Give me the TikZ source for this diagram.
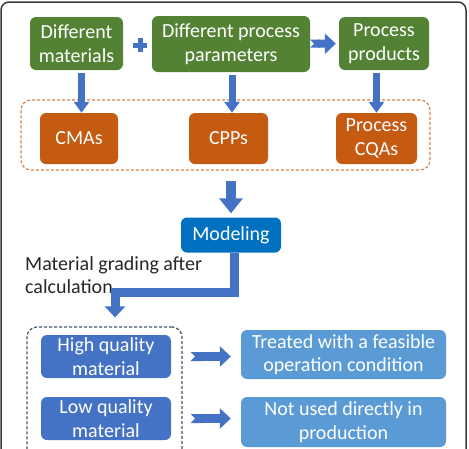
\documentclass[tikz,border=0pt]{standalone}
\usepackage{fontspec}
\setmainfont{Carlito}
\usetikzlibrary{arrows.meta, positioning}
\definecolor{inputgreen}{RGB}{84,130,53}
\definecolor{attrorange}{RGB}{197,90,17}
\definecolor{modelblue}{RGB}{0,112,192}
\definecolor{gradeblue}{RGB}{68,114,196}
\definecolor{resultblue}{RGB}{91,155,213}
\definecolor{arrowblue}{RGB}{68,114,196}
\definecolor{groupgray}{RGB}{68,84,106}
\definecolor{framegray}{RGB}{60,60,60}

\tikzset{
  box/.style={rounded corners=6pt, inner sep=0pt, align=center, text=white,
    font=\fontsize{20}{23.5}\selectfont},
  greenbox/.style={box, fill=inputgreen},
  orangebox/.style={box, fill=attrorange},
  gradebox/.style={box, fill=gradeblue},
  resultbox/.style={box, fill=resultblue},
  dashgroup/.style={dash pattern=on 3pt off 2pt, line width=1.2pt, rounded corners=10pt, inner sep=0pt},
  flow/.style={draw=arrowblue, line width=7pt, -{Triangle[length=11pt,width=15pt]}},
  bigflow/.style={draw=arrowblue, line width=10pt, -{Triangle[length=15pt,width=23pt]}},
  elbowflow/.style={draw=arrowblue, line width=9pt, line join=miter, -{Triangle[length=11pt,width=20pt]}},
  notchflow/.style={draw=arrowblue, line width=9pt, {Triangle Cap[reversed]}-{Triangle[length=11pt,width=20pt]}},
}

\begin{document}
\begin{tikzpicture}[x=1pt, y=-1pt]
  \useasboundingbox (0,0) rectangle (469,448);

  % Draw the frame
  \draw[framegray, line width=1.5pt, rounded corners=8pt] (1,2) rectangle (466,490);

  % Inputs and outputs
  \node[greenbox, minimum width=93pt, minimum height=53pt] (materials) at (76.5,43.5) {Different\\materials};
  \node[greenbox, minimum width=158pt, minimum height=56pt] (params) at (231,44) {Different process\\parameters};
  \node[greenbox, minimum width=90pt, minimum height=53pt] (products) at (384,43.5) {Process\\products};

  % Plus sign
  \coordinate (plus) at (140,45);
  \draw[arrowblue, line width=5pt] ([xshift=-7pt]plus) -- ([xshift=7pt]plus)
    ([yshift=-7pt]plus) -- ([yshift=7pt]plus);
  \draw[notchflow, line width=8pt, shorten >=3pt] (params) -- (products);

  % Critical attributes
  \node[dashgroup, draw=attrorange!75, minimum width=409pt, minimum height=70pt] (attributes) at (225.5,135) {};
  \node[orangebox, minimum width=78pt, minimum height=51pt] (cma) at (79,138.5) {CMAs};
  \node[orangebox, minimum width=79pt, minimum height=51pt] (cpp) at (228.5,138.5) {CPPs};
  \node[orangebox, minimum width=81pt, minimum height=51pt] (cqa) at (376.5,138.5) {Process\\CQAs};

  \draw[flow, shorten <=3pt] ([xshift=5pt]materials.south) -- ([xshift=5pt]materials.south |- cma.north);
  \draw[flow, shorten <=3pt] ([xshift=1pt]params.south) -- ([xshift=1pt]params.south |- cpp.north);
  \draw[flow, shorten <=3pt] (cqa.north |- products.south) -- (cqa.north);

  % Modeling
  \node[box, fill=modelblue, minimum width=100pt, minimum height=35pt] (model) at (231,235) {Modeling};
  \draw[bigflow, shorten <=10pt, shorten >=4pt] (attributes.south -| model) -- (model.north);

  \node[anchor=north west, align=left, inner sep=0pt, text=black!85,
    font=\fontsize{20}{23.5}\selectfont] (gradelabel) at (25,256) {Material grading after\\calculation};

  % Grading
  \node[dashgroup, draw=groupgray, minimum width=155pt, minimum height=140pt] (grades) at (104.5,397) {};
  \node[gradebox, minimum width=130pt, minimum height=43pt] (high) at (106,356.5) {High quality\\material};
  \node[gradebox, minimum width=130pt, minimum height=43pt] (low) at (106,418.5) {Low quality\\material};
  \node[resultbox, minimum width=205pt, minimum height=49pt] (treated) at (343.5,354.5) {Treated with a feasible\\operation condition};
  \node[resultbox, minimum width=205pt, minimum height=50pt] (unused) at (343.5,422) {Not used directly in\\production};

  \coordinate (split) at (115,292);
  \draw[elbowflow, shorten >=9pt] ([xshift=3pt]model.south) |- (split) -- (split |- grades.north);

  \draw[notchflow, shorten <=8pt, shorten >=10pt] (grades.east |- high) -- (treated.west |- high);
  \draw[notchflow, shorten <=8pt, shorten >=10pt] (grades.east |- low) -- (unused.west |- low);
\end{tikzpicture}
\end{document}
